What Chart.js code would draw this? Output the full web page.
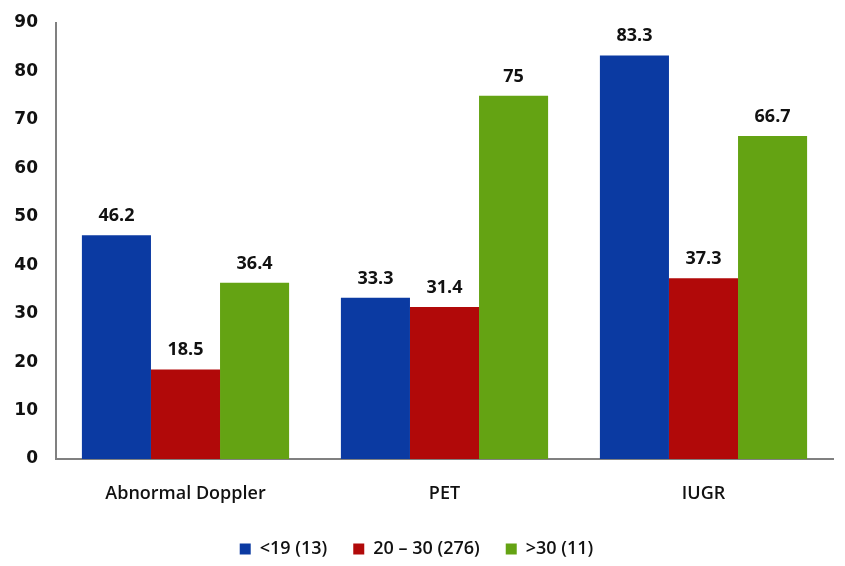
<!DOCTYPE html>
<html>
<head>
<meta charset="utf-8">
<script src="https://cdn.jsdelivr.net/npm/chart.js@4/dist/chart.umd.min.js"></script>
<style>
  html, body { margin: 0; padding: 0; background: #ffffff; }
  #wrap { width: 845px; height: 566px; position: relative; }
</style>
</head>
<body>
<div id="wrap"><canvas id="c" width="845" height="566"></canvas></div>
<script>
// Outcomes by group, percentage of cases
const categories = ['Abnormal Doppler', 'PET', 'IUGR'];
const seriesNames = ['<19 (13)', '20 \u2013 30 (276)', '>30 (11)'];
const under19 = [46.2, 33.3, 83.3];
const from20to30 = [18.5, 31.4, 37.3];
const over30 = [36.4, 75, 66.7];
const yTicks = [0, 10, 20, 30, 40, 50, 60, 70, 80, 90];

const colors = ['#0b3aa2', '#b10909', '#64a313'];
const seriesValues = [under19, from20to30, over30];

// Writes each bar's value centred above it
const valueLabels = {
  id: 'valueLabels',
  afterDatasetsDraw(chart) {
    const ctx = chart.ctx;
    ctx.save();
    ctx.font = 'bold 18px "Open Sans", "DejaVu Sans", sans-serif';
    ctx.fillStyle = '#111111';
    ctx.textAlign = 'center';
    ctx.textBaseline = 'alphabetic';
    chart.data.datasets.forEach((ds, i) => {
      chart.getDatasetMeta(i).data.forEach((bar, j) => {
        ctx.fillText(String(ds.data[j]), bar.x, bar.y - 14);
      });
    });
    ctx.restore();
  }
};

// Trims the legend block a little so it sits lower
const legendFit = {
  id: 'legendFit',
  beforeInit(chart) {
    const fit = chart.legend.fit;
    chart.legend.fit = function () {
      fit.bind(chart.legend)();
      this.height -= 2;
    };
  }
};

const font = '"Open Sans", sans-serif';

new Chart(document.getElementById('c'), {
  type: 'bar',
  data: {
    labels: categories,
    datasets: seriesNames.map((name, i) => ({
      label: name,
      data: seriesValues[i],
      backgroundColor: colors[i],
      borderWidth: 0,
      categoryPercentage: 0.8,
      barPercentage: 1.0
    }))
  },
  options: {
    responsive: false,
    animation: false,
    layout: { padding: { left: 0, right: 12, top: 23, bottom: 0 } },
    plugins: {
      tooltip: { enabled: false },
      legend: {
        position: 'bottom',
        labels: {
          boxWidth: 11,
          boxHeight: 11,
          padding: 26,
          color: '#111111',
          font: { family: font, size: 18, weight: '600' }
        }
      }
    },
    scales: {
      x: {
        grid: { display: false, drawTicks: false },
        border: { display: true, color: '#808080', width: 2 },
        ticks: {
          padding: 24,
          color: '#111111',
          font: { family: font, size: 18, weight: '600' }
        },
        afterFit(scale) { scale.height = 55; }
      },
      y: {
        min: 0,
        max: 90,
        afterBuildTicks(axis) { axis.ticks = yTicks.map(v => ({ value: v })); },
        grid: { display: false, drawTicks: false },
        border: { display: true, color: '#808080', width: 2 },
        ticks: {
          padding: 18,
          color: '#111111',
          font: { family: '"DejaVu Sans", sans-serif', size: 17, weight: 'bold' }
        },
        afterFit(scale) {
          scale.width = 56;
          scale.paddingTop = 0;
          scale.paddingBottom = 0;
        }
      }
    }
  },
  plugins: [valueLabels, legendFit]
});
</script>
</body>
</html>
